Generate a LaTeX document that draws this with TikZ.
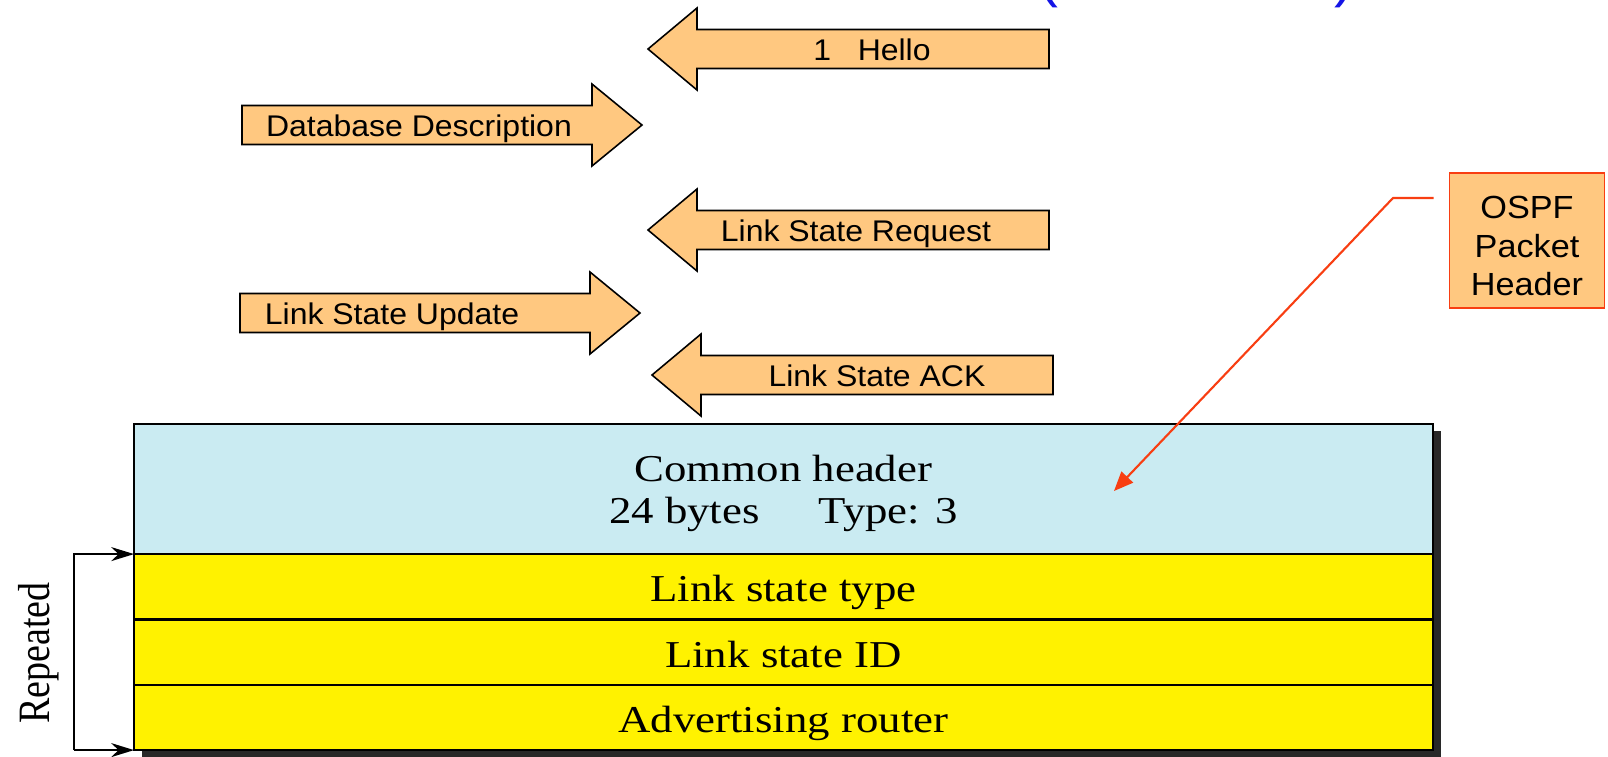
\documentclass[tikz,border=0pt]{standalone}
\usepackage{fontspec}
\usepackage{graphicx}
\usepackage{tikz}
\usetikzlibrary{arrows.meta,positioning,backgrounds}

\newfontfamily\pktfont{Liberation Sans}[FakeStretch=1.07]
\newfontfamily\titlefont{Liberation Sans}
\newfontfamily\tblfont{Liberation Serif}[FakeStretch=1.18]
\newfontfamily\repfont{Liberation Serif}

\definecolor{pktorange}{RGB}{255,200,128}
\definecolor{hdrblue}{RGB}{202,235,242}
\definecolor{calloutred}{RGB}{248,62,18}
\definecolor{titleblue}{RGB}{20,20,230}
\definecolor{shadowgray}{RGB}{40,40,40}

\tikzset{
  pkt/.style={draw=black, fill=pktorange, line width=0.45pt},
  pktlabel/.style={font=\pktfont\fontsize{8.5}{10}\selectfont, anchor=base, inner sep=0pt},
  fieldbox/.style={draw=black, line width=0.65pt, fill=yellow, minimum width=12.98cm,
    inner sep=0pt, outer sep=0pt, font=\tblfont\fontsize{10.8}{12.2}\selectfont},
  lsrow/.style={minimum height=0.653cm, text height=8.6pt, text depth=0pt},
  ospfbox/.style={draw=calloutred, fill=pktorange, line width=0.5pt, minimum width=1.55cm,
    minimum height=1.35cm, align=center, inner sep=0pt,
    font=\pktfont\fontsize{9.1}{10.95}\selectfont},
  callout/.style={draw=calloutred, line width=0.6pt, -{Triangle[length=5.5pt, width=4.5pt]}},
  repline/.style={line width=0.45pt, -{Stealth[length=6.5pt, width=4pt]}},
}

\begin{document}
\begin{tikzpicture}[x=0.01cm, y=-0.01cm]
\useasboundingbox (0,0) rectangle (1608,756);

% title brackets, cut at the top
\node[font=\titlefont\fontsize{17}{20}\selectfont, text=titleblue, anchor=base] (lparen) at (1048,-5) {(};
\node[font=\titlefont\fontsize{17}{20}\selectfont, text=titleblue, anchor=base] (rparen) at (1344,-5) {)};

% packets going left
\foreach \tx/\ty/\lx/\nm/\txt in {648/49/872/hello/{1\ \ \ Hello}, 648/230/856/lsreq/Link State Request, 652/375/877/lsack/Link State ACK}{
  \draw[pkt] (\tx,\ty) -- (\tx+49,\ty-41) -- (\tx+49,\ty-19.5) -- (\tx+401,\ty-19.5)
    -- (\tx+401,\ty+19.5) -- (\tx+49,\ty+19.5) -- (\tx+49,\ty+41) -- cycle;
  \node[pktlabel] (\nm) at (\lx,\ty+11) {\txt};
}

% packets going right
\foreach \lx/\ty/\cx/\nm/\txt in {242/125/419/dbdesc/Database Description, 240/313/392/lsupd/Link State Update}{
  \draw[pkt] (\lx,\ty-19.5) -- (\lx+350,\ty-19.5) -- (\lx+350,\ty-41) -- (\lx+400,\ty)
    -- (\lx+350,\ty+41) -- (\lx+350,\ty+19.5) -- (\lx,\ty+19.5) -- cycle;
  \node[pktlabel] (\nm) at (\cx,\ty+11) {\txt};
}

% LSR packet format
\node[fieldbox, fill=hdrblue, minimum height=1.30cm, align=center, anchor=north west] (cmnhdr) at (134,424)
  {\rule{0pt}{10pt}Common header\\24 bytes\hspace{16.8pt}Type: 3};
\node[fieldbox, lsrow, below=0pt of cmnhdr] (lstype) {Link state type};
\node[fieldbox, lsrow, below=0pt of lstype] (lsid) {Link state ID};
\node[fieldbox, lsrow, below=0pt of lsid] (advrouter) {Advertising router};
\begin{scope}[on background layer]
\fill[shadowgray] ([shift={(8,7)}]cmnhdr.north west) rectangle ([shift={(8,7)}]advrouter.south east);
\end{scope}

% repeated part
\coordinate (repx) at (74,0);
\draw[repline] (repx |- advrouter.south west) -- (advrouter.south west);
\draw[repline] (repx |- advrouter.south west) -- (repx |- lstype.north west) -- (lstype.north west);
\node[rotate=90, font=\repfont\fontsize{10.8}{12}\selectfont, inner sep=0pt] (reptext) at (39,653)
  {\scalebox{1}[1.18]{Repeated}};

% callout
\node[ospfbox] (ospf) at (1527,240.5) {\rule{0pt}{9.6pt}OSPF\\Packet\\Header};
\coordinate (calloutbend) at (1393,198);
\coordinate (hdrspot) at (1114,491);
\draw[callout] ([xshift=-0.15cm]ospf.west |- calloutbend) -- (calloutbend) -- (hdrspot);
\end{tikzpicture}
\end{document}
